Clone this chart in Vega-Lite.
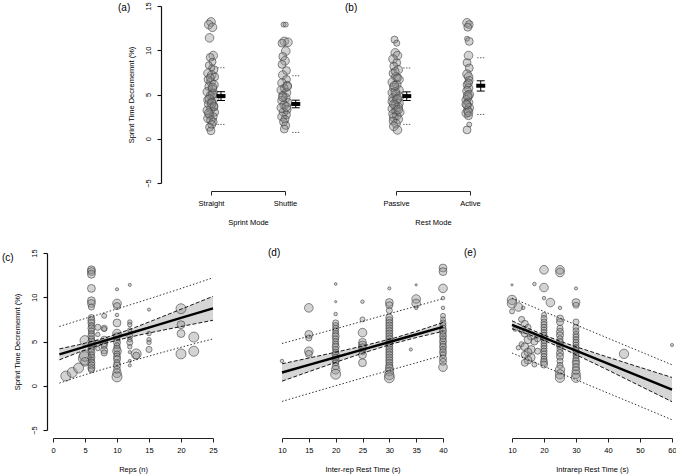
{
  "$schema": "https://vega.github.io/schema/vega-lite/v6.json",
  "description": "Sprint time decrement by sprint mode, rest mode, reps, inter-rep and intrarep rest time.",
  "padding": {"left": 2, "top": 1, "right": 2, "bottom": 2},
  "config": {
    "font": "Liberation Sans",
    "view": {"stroke": null},
    "axis": {
      "grid": false, "labelFlush": false, "labelOverlap": false, "domain": true, "ticks": true,
      "tickSize": 4, "tickWidth": 1, "domainWidth": 1,
      "domainColor": "#222", "tickColor": "#222",
      "labelFont": "Liberation Sans", "labelFontSize": 7.5, "labelColor": "#000", "labelPadding": 4,
      "titleFont": "Liberation Sans", "titleFontSize": 7.5, "titleFontWeight": "normal", "titleColor": "#000", "titlePadding": 12
    },
    "title": {"anchor": "start", "frame": "group", "offset": 0, "fontSize": 10, "fontWeight": "normal", "font": "Liberation Sans", "color": "#000"}
  },
  "datasets": {
    "a": [
      {"x":1.0,"y":13.2,"w":3},{"x":0.97,"y":12.9,"w":3},{"x":1.02,"y":12.6,"w":3},{"x":0.98,"y":11.4,"w":3},
      {"x":1.03,"y":9.4,"w":3},{"x":0.99,"y":9.2,"w":2.5},{"x":1.02,"y":8.7,"w":2},{"x":0.97,"y":8.3,"w":2},{"x":1.04,"y":7.8,"w":2.5},{"x":0.96,"y":7.4,"w":3},{"x":1.01,"y":7.2,"w":3},{"x":1.05,"y":7.0,"w":2.5},{"x":0.96,"y":6.7,"w":2.5},{"x":1.0,"y":6.4,"w":3},{"x":1.04,"y":6.1,"w":3},{"x":0.97,"y":5.9,"w":2.5},{"x":1.02,"y":5.6,"w":3},{"x":0.95,"y":5.3,"w":3},{"x":1.03,"y":5.1,"w":3},{"x":0.99,"y":4.9,"w":2.5},{"x":1.05,"y":4.6,"w":3},{"x":0.96,"y":4.4,"w":3},{"x":1.01,"y":4.2,"w":2.5},{"x":0.97,"y":3.9,"w":3},{"x":1.04,"y":3.7,"w":2.5},{"x":1.0,"y":3.4,"w":3},{"x":0.95,"y":3.2,"w":3},{"x":1.05,"y":3.0,"w":2.5},{"x":0.98,"y":2.7,"w":3},{"x":1.03,"y":2.5,"w":2.5},{"x":0.96,"y":2.3,"w":3},{"x":1.0,"y":2.1,"w":3},{"x":1.03,"y":1.9,"w":2.5},{"x":1.01,"y":1.6,"w":2.5},{"x":0.98,"y":1.3,"w":2.5},{"x":1.0,"y":0.9,"w":2.5},{"x":1.02,"y":5.0,"w":3},{"x":0.98,"y":4.5,"w":3},{"x":1.04,"y":3.6,"w":2.5},{"x":0.99,"y":6.9,"w":2.5},{"x":1.02,"y":5.8,"w":3},{"x":0.97,"y":2.9,"w":3},{"x":1.01,"y":4.0,"w":3},{"x":1.01,"y":8.0,"w":1.5},
      {"x":1.98,"y":12.9,"w":1},{"x":2.01,"y":12.9,"w":1},{"x":1.99,"y":11.0,"w":3},{"x":2.04,"y":10.9,"w":3},{"x":1.96,"y":10.8,"w":2.5},{"x":2.01,"y":9.9,"w":3},{"x":1.97,"y":9.3,"w":2.5},{"x":2.0,"y":8.8,"w":3},{"x":1.96,"y":8.4,"w":2.5},{"x":2.02,"y":7.7,"w":2.5},{"x":1.97,"y":7.2,"w":3},{"x":2.02,"y":6.7,"w":2.5},{"x":1.96,"y":6.3,"w":3},{"x":2.03,"y":6.0,"w":3},{"x":1.99,"y":5.7,"w":2.5},{"x":1.95,"y":5.5,"w":3},{"x":2.02,"y":5.2,"w":3},{"x":1.97,"y":4.9,"w":2.5},{"x":2.01,"y":4.6,"w":3},{"x":1.96,"y":4.3,"w":3},{"x":2.04,"y":4.1,"w":2.5},{"x":1.99,"y":3.8,"w":3},{"x":1.95,"y":3.5,"w":3},{"x":2.03,"y":3.3,"w":2.5},{"x":1.98,"y":3.0,"w":3},{"x":2.02,"y":2.7,"w":2.5},{"x":1.96,"y":2.5,"w":3},{"x":2.0,"y":2.2,"w":2.5},{"x":1.98,"y":1.9,"w":2.5},{"x":2.01,"y":1.5,"w":2.5},{"x":1.99,"y":1.1,"w":2.5},{"x":2.03,"y":5.9,"w":3},{"x":1.97,"y":4.7,"w":3},{"x":2.02,"y":3.6,"w":3}
    ],
    "am": [
      {"x":1.135,"m":4.82,"lo":4.32,"hi":5.32,"pu":8.02,"pl":1.62},
      {"x":2.145,"m":3.93,"lo":3.5,"hi":4.36,"pu":7.12,"pl":0.71}
    ],
    "b": [
      {"x":0.98,"y":11.2,"w":2},{"x":1.01,"y":10.8,"w":1.5},{"x":0.99,"y":9.7,"w":3},{"x":1.02,"y":9.4,"w":3},{"x":0.96,"y":9.0,"w":3},{"x":1.01,"y":8.6,"w":2.5},{"x":0.97,"y":8.2,"w":2.5},{"x":1.03,"y":7.8,"w":3},{"x":0.96,"y":7.4,"w":2.5},{"x":1.0,"y":7.0,"w":3},{"x":1.04,"y":6.7,"w":3},{"x":0.95,"y":6.4,"w":3},{"x":1.01,"y":6.1,"w":3},{"x":0.97,"y":5.8,"w":3},{"x":1.04,"y":5.5,"w":3},{"x":0.95,"y":5.2,"w":3},{"x":1.0,"y":5.0,"w":3},{"x":1.05,"y":4.8,"w":3},{"x":0.96,"y":4.6,"w":3},{"x":1.01,"y":4.4,"w":3},{"x":0.95,"y":4.2,"w":3},{"x":1.04,"y":4.0,"w":3},{"x":0.99,"y":3.8,"w":3},{"x":1.03,"y":3.6,"w":3},{"x":0.95,"y":3.4,"w":3},{"x":1.0,"y":3.2,"w":3},{"x":1.05,"y":3.0,"w":3},{"x":0.96,"y":2.8,"w":3},{"x":1.01,"y":2.6,"w":3},{"x":0.97,"y":2.4,"w":3},{"x":1.03,"y":2.2,"w":3},{"x":0.96,"y":2.0,"w":2.5},{"x":1.0,"y":1.7,"w":3},{"x":0.97,"y":1.4,"w":3},{"x":1.02,"y":1.0,"w":3},{"x":0.99,"y":5.3,"w":3},{"x":1.02,"y":4.5,"w":3},{"x":0.97,"y":3.9,"w":3},{"x":1.03,"y":3.3,"w":3},{"x":0.98,"y":6.0,"w":3},{"x":1.02,"y":6.9,"w":2.5},{"x":0.99,"y":7.6,"w":2.5},
      {"x":1.96,"y":13.1,"w":3},{"x":1.99,"y":12.9,"w":2.5},{"x":1.97,"y":12.6,"w":2.5},{"x":1.96,"y":11.3,"w":1},{"x":1.99,"y":11.0,"w":2.5},{"x":1.98,"y":9.4,"w":3},{"x":1.96,"y":8.6,"w":2.5},{"x":1.99,"y":8.0,"w":2.5},{"x":1.96,"y":7.3,"w":3},{"x":1.98,"y":7.0,"w":3},{"x":1.99,"y":6.6,"w":2.5},{"x":1.96,"y":6.1,"w":2.5},{"x":1.98,"y":5.7,"w":3},{"x":1.96,"y":5.4,"w":3},{"x":1.99,"y":5.0,"w":3},{"x":1.97,"y":4.7,"w":3},{"x":1.95,"y":4.4,"w":3},{"x":1.98,"y":4.1,"w":3},{"x":1.96,"y":3.8,"w":3},{"x":1.99,"y":3.5,"w":3},{"x":1.97,"y":3.2,"w":3},{"x":1.95,"y":2.9,"w":3},{"x":1.98,"y":2.6,"w":2.5},{"x":1.99,"y":1.6,"w":1},{"x":1.96,"y":1.0,"w":2.5},{"x":1.98,"y":6.3,"w":2.5},{"x":1.97,"y":4.9,"w":3},{"x":1.95,"y":3.9,"w":3},{"x":1.98,"y":3.0,"w":3}
    ],
    "bm": [
      {"x":1.145,"m":4.82,"lo":4.32,"hi":5.3,"pu":8.0,"pl":1.62},
      {"x":2.145,"m":5.99,"lo":5.39,"hi":6.55,"pu":9.15,"pl":2.75}
    ],
    "c": [
      {"x":2,"y":1.1,"w":4},{"x":3,"y":1.5,"w":4},{"x":4,"y":2.0,"w":4},{"x":5,"y":3.1,"w":7},{"x":5,"y":3.4,"w":5},{"x":5,"y":5.1,"w":4},{"x":5,"y":2.7,"w":3},
      {"x":6,"y":13.1,"w":2.5},{"x":6,"y":12.9,"w":2.5},{"x":6,"y":12.6,"w":2.5},{"x":6,"y":11.0,"w":2.5},{"x":6,"y":9.6,"w":2.5},{"x":6,"y":9.3,"w":2.5},{"x":6,"y":8.9,"w":1.5},{"x":6,"y":7.7,"w":1.5},{"x":6,"y":7.4,"w":2},{"x":6,"y":7.1,"w":2},{"x":6,"y":6.8,"w":1.5},{"x":6,"y":6.5,"w":2},{"x":6,"y":6.2,"w":1.5},{"x":6,"y":5.9,"w":1.5},{"x":6,"y":5.6,"w":2},{"x":6,"y":5.3,"w":1.5},{"x":6,"y":5.0,"w":2},{"x":6,"y":4.7,"w":1.5},{"x":6,"y":4.4,"w":2},{"x":6,"y":4.1,"w":1.5},{"x":6,"y":3.8,"w":2},{"x":6,"y":3.5,"w":1.5},{"x":6,"y":3.2,"w":2},{"x":6,"y":2.9,"w":1.5},{"x":6,"y":2.6,"w":2},{"x":6,"y":2.3,"w":2},{"x":6,"y":2.0,"w":2},{"x":6,"y":1.8,"w":1.5},
      {"x":7,"y":6.6,"w":1.5},{"x":7,"y":5.8,"w":0.8},{"x":7,"y":4.8,"w":1.5},{"x":7,"y":4.2,"w":0.8},
      {"x":8,"y":7.9,"w":1},{"x":8,"y":6.5,"w":1.5},{"x":8,"y":6.4,"w":1},{"x":8,"y":5.2,"w":2},{"x":8,"y":4.8,"w":2},{"x":8,"y":4.5,"w":1.5},{"x":8,"y":4.0,"w":2},{"x":8,"y":3.7,"w":1.5},
      {"x":10,"y":10.9,"w":0.4},{"x":10,"y":9.3,"w":3},{"x":10,"y":9.0,"w":2},{"x":10,"y":8.0,"w":0.5},{"x":10,"y":7.1,"w":2.5},{"x":10,"y":5.9,"w":3},{"x":10,"y":5.6,"w":2},{"x":10,"y":5.2,"w":1.5},{"x":10,"y":4.9,"w":2},{"x":10,"y":4.5,"w":1.5},{"x":10,"y":4.2,"w":2},{"x":10,"y":3.9,"w":3},{"x":10,"y":3.6,"w":1.5},{"x":10,"y":3.3,"w":2},{"x":10,"y":3.0,"w":2},{"x":10,"y":2.6,"w":1.5},{"x":10,"y":2.3,"w":2},{"x":10,"y":1.8,"w":2},{"x":10,"y":1.4,"w":3},{"x":10,"y":1.0,"w":4},
      {"x":12,"y":11.4,"w":0.4},{"x":12,"y":7.2,"w":0.8},{"x":12,"y":6.9,"w":0.8},{"x":12,"y":6.3,"w":0.8},{"x":12,"y":5.6,"w":1.5},{"x":12,"y":5.2,"w":0.8},{"x":12,"y":4.9,"w":1.5},{"x":12,"y":4.4,"w":0.8},{"x":12,"y":3.8,"w":0.4},{"x":12,"y":2.8,"w":0.4},{"x":12,"y":2.3,"w":0.4},
      {"x":13,"y":3.6,"w":4},{"x":13,"y":3.4,"w":2},
      {"x":15,"y":8.6,"w":0.4},{"x":15,"y":5.9,"w":0.8},{"x":15,"y":5.2,"w":0.8},{"x":15,"y":4.9,"w":0.8},{"x":15,"y":4.1,"w":1.5},
      {"x":20,"y":8.7,"w":4},{"x":20,"y":6.9,"w":2.5},{"x":20,"y":5.9,"w":2.5},{"x":20,"y":3.6,"w":4},
      {"x":22,"y":5.5,"w":4},{"x":22,"y":3.9,"w":4}
    ],
    "cl": [
      {"x":1,"fit":3.55,"lo":2.93,"hi":4.17,"plo":0.3,"phi":6.7},
      {"x":4,"fit":4.2,"lo":3.77,"hi":4.63,"plo":1.02,"phi":7.38},
      {"x":8,"fit":5.07,"lo":4.77,"hi":5.37,"plo":1.9,"phi":8.24},
      {"x":12,"fit":5.93,"lo":5.5,"hi":6.36,"plo":2.73,"phi":9.13},
      {"x":16,"fit":6.8,"lo":6.11,"hi":7.49,"plo":3.55,"phi":10.05},
      {"x":20,"fit":7.67,"lo":6.69,"hi":8.65,"plo":4.35,"phi":10.99},
      {"x":25,"fit":8.75,"lo":7.4,"hi":10.1,"plo":5.3,"phi":12.2}
    ],
    "d": [
      {"x":10,"y":2.8,"w":0.5},
      {"x":15,"y":8.8,"w":3},{"x":15,"y":5.8,"w":2.5},{"x":15,"y":5.4,"w":1.5},{"x":15,"y":3.9,"w":3},{"x":15,"y":3.6,"w":2},
      {"x":20,"y":11.5,"w":0.3},{"x":20,"y":9.5,"w":0.2},{"x":20,"y":8.1,"w":0.5},{"x":20,"y":7.1,"w":1.5},{"x":20,"y":6.8,"w":1.5},{"x":20,"y":6.5,"w":1.5},{"x":20,"y":6.2,"w":1.5},{"x":20,"y":5.9,"w":1.5},{"x":20,"y":5.6,"w":2},{"x":20,"y":5.3,"w":1.5},{"x":20,"y":5.0,"w":1.5},{"x":20,"y":4.7,"w":1.5},{"x":20,"y":4.4,"w":2},{"x":20,"y":4.1,"w":1.5},{"x":20,"y":3.8,"w":1.5},{"x":20,"y":3.5,"w":2},{"x":20,"y":3.2,"w":1.5},{"x":20,"y":2.9,"w":2},{"x":20,"y":2.6,"w":1.5},{"x":20,"y":2.2,"w":2},{"x":20,"y":1.8,"w":3},{"x":20,"y":1.3,"w":4},
      {"x":25,"y":9.5,"w":0.5},{"x":25,"y":7.5,"w":1},{"x":25,"y":6.0,"w":3},{"x":25,"y":4.9,"w":2.5},{"x":25,"y":4.6,"w":2.5},{"x":25,"y":4.3,"w":2.5},{"x":25,"y":3.9,"w":2},{"x":25,"y":3.5,"w":2.5},{"x":25,"y":2.6,"w":2.5},
      {"x":30,"y":11.0,"w":0.4},{"x":30,"y":9.4,"w":2.5},{"x":30,"y":9.1,"w":2},{"x":30,"y":8.5,"w":1.5},{"x":30,"y":7.7,"w":2},{"x":30,"y":7.4,"w":2},{"x":30,"y":7.1,"w":2},{"x":30,"y":6.8,"w":2},{"x":30,"y":6.5,"w":2},{"x":30,"y":6.2,"w":2},{"x":30,"y":5.9,"w":2},{"x":30,"y":5.6,"w":2},{"x":30,"y":5.3,"w":2},{"x":30,"y":5.0,"w":2},{"x":30,"y":4.7,"w":2},{"x":30,"y":4.4,"w":2},{"x":30,"y":4.1,"w":2},{"x":30,"y":3.8,"w":2},{"x":30,"y":3.5,"w":2},{"x":30,"y":3.2,"w":2},{"x":30,"y":2.9,"w":2},{"x":30,"y":2.6,"w":2},{"x":30,"y":2.3,"w":2},{"x":30,"y":2.0,"w":2.5},{"x":30,"y":1.6,"w":3},{"x":30,"y":1.2,"w":3.5},{"x":30,"y":0.9,"w":4},
      {"x":34,"y":4.1,"w":0.4},
      {"x":35,"y":11.4,"w":0.2},{"x":35,"y":9.8,"w":3},{"x":35,"y":9.3,"w":3},{"x":35,"y":8.8,"w":0.5},
      {"x":40,"y":13.3,"w":2.5},{"x":40,"y":12.9,"w":2.5},{"x":40,"y":11.0,"w":3},{"x":40,"y":9.9,"w":0.5},{"x":40,"y":8.8,"w":0.5},{"x":40,"y":7.9,"w":1},{"x":40,"y":7.5,"w":1},{"x":40,"y":7.1,"w":1.5},{"x":40,"y":6.8,"w":1.5},{"x":40,"y":6.5,"w":1.5},{"x":40,"y":6.2,"w":2},{"x":40,"y":5.9,"w":1.5},{"x":40,"y":5.6,"w":2},{"x":40,"y":5.3,"w":1.5},{"x":40,"y":5.0,"w":2},{"x":40,"y":4.7,"w":1.5},{"x":40,"y":4.4,"w":2},{"x":40,"y":4.1,"w":1.5},{"x":40,"y":3.8,"w":2},{"x":40,"y":3.5,"w":1.5},{"x":40,"y":3.1,"w":2},{"x":40,"y":2.7,"w":2},{"x":40,"y":2.1,"w":3}
    ],
    "dl": [
      {"x":10,"fit":1.5,"lo":0.52,"hi":2.48,"plo":-1.77,"phi":4.77},
      {"x":15,"fit":2.36,"lo":1.59,"hi":3.13,"plo":-0.88,"phi":5.6},
      {"x":20,"fit":3.22,"lo":2.65,"hi":3.79,"plo":0.0,"phi":6.44},
      {"x":25,"fit":4.08,"lo":3.68,"hi":4.48,"plo":0.88,"phi":7.28},
      {"x":31,"fit":5.11,"lo":4.81,"hi":5.41,"plo":1.91,"phi":8.31},
      {"x":35,"fit":5.79,"lo":5.44,"hi":6.14,"plo":2.59,"phi":8.99},
      {"x":40,"fit":6.65,"lo":6.15,"hi":7.15,"plo":3.45,"phi":9.85}
    ],
    "e": [
      {"x":10,"y":11.4,"w":0.2},{"x":10,"y":9.7,"w":3.5},{"x":10,"y":9.3,"w":3.5},{"x":10,"y":8.4,"w":1},{"x":12,"y":8.9,"w":3},{"x":13.5,"y":8.8,"w":0.5},
      {"x":13,"y":7.5,"w":1.5},{"x":14,"y":7.0,"w":2},{"x":15,"y":6.6,"w":1.5},{"x":13,"y":6.2,"w":1},{"x":14,"y":5.9,"w":2},{"x":16,"y":5.6,"w":2.5},{"x":15,"y":5.2,"w":2.5},{"x":17,"y":5.0,"w":2},{"x":13,"y":4.7,"w":1},{"x":14,"y":4.4,"w":2.5},{"x":16,"y":4.1,"w":2.5},{"x":15,"y":3.8,"w":2.5},{"x":14,"y":3.5,"w":2},{"x":16,"y":3.2,"w":2.5},{"x":15,"y":2.9,"w":2.5},{"x":14,"y":2.6,"w":2},{"x":17,"y":2.4,"w":1},{"x":18,"y":3.9,"w":1.5},{"x":18,"y":5.3,"w":1.5},{"x":12,"y":4.3,"w":0.8},{"x":11,"y":6.4,"w":0.8},
      {"x":17,"y":11.5,"w":0.5},
      {"x":20,"y":13.1,"w":3},{"x":20,"y":11.1,"w":3},{"x":20,"y":9.9,"w":0.5},{"x":22,"y":9.4,"w":3},{"x":20,"y":8.0,"w":1},{"x":20,"y":7.6,"w":1.5},{"x":20,"y":7.2,"w":1.5},{"x":20,"y":6.9,"w":1.5},{"x":20,"y":6.6,"w":1.5},{"x":20,"y":6.3,"w":1.5},{"x":20,"y":6.0,"w":1.5},{"x":20,"y":5.7,"w":1.5},{"x":20,"y":5.4,"w":1.5},{"x":20,"y":5.1,"w":1.5},{"x":20,"y":4.8,"w":1.5},{"x":20,"y":4.5,"w":1.5},{"x":20,"y":4.2,"w":1.5},{"x":20,"y":3.9,"w":1.5},{"x":20,"y":3.6,"w":1.5},{"x":20,"y":3.3,"w":1.5},{"x":20,"y":3.0,"w":1.5},{"x":20,"y":2.7,"w":2},{"x":20,"y":2.4,"w":2},
      {"x":25,"y":13.1,"w":3},{"x":25,"y":12.8,"w":3},{"x":25,"y":8.8,"w":0.5},{"x":25,"y":7.6,"w":2},{"x":25,"y":7.2,"w":2},{"x":25,"y":6.5,"w":1.5},{"x":25,"y":6.1,"w":2},{"x":25,"y":5.7,"w":2},{"x":25,"y":5.3,"w":1.5},{"x":25,"y":4.9,"w":2},{"x":25,"y":4.5,"w":2},{"x":25,"y":4.1,"w":1.5},{"x":25,"y":3.7,"w":2},{"x":25,"y":3.3,"w":2},{"x":25,"y":2.8,"w":1.5},{"x":25,"y":2.3,"w":1.5},{"x":25,"y":1.8,"w":3.5},{"x":25,"y":1.3,"w":3.5},{"x":25,"y":0.9,"w":3.5},
      {"x":30,"y":11.0,"w":0.4},{"x":30,"y":9.4,"w":2.5},{"x":30,"y":9.1,"w":1.5},{"x":30,"y":7.2,"w":1.5},{"x":30,"y":6.6,"w":1.5},{"x":30,"y":6.2,"w":1.5},{"x":30,"y":5.8,"w":1.5},{"x":30,"y":5.5,"w":1.5},{"x":30,"y":5.2,"w":1.5},{"x":30,"y":4.9,"w":1.5},{"x":30,"y":4.6,"w":1.5},{"x":30,"y":4.3,"w":1.5},{"x":30,"y":4.0,"w":1.5},{"x":30,"y":3.7,"w":1.5},{"x":30,"y":3.4,"w":1.5},{"x":30,"y":3.1,"w":1.5},{"x":30,"y":2.8,"w":2},{"x":30,"y":2.5,"w":2},{"x":30,"y":2.1,"w":2},{"x":30,"y":1.7,"w":2.5},{"x":30,"y":1.3,"w":3},{"x":30,"y":0.9,"w":3.5},
      {"x":45,"y":3.6,"w":3.5},{"x":60,"y":4.6,"w":0.4}
    ],
    "el": [
      {"x":10,"fit":6.89,"lo":6.44,"hi":7.34,"plo":3.7,"phi":9.9},
      {"x":15,"fit":6.16,"lo":5.82,"hi":6.5,"plo":2.95,"phi":9.15},
      {"x":20,"fit":5.43,"lo":5.13,"hi":5.73,"plo":2.19,"phi":8.39},
      {"x":25,"fit":4.69,"lo":4.35,"hi":5.03,"plo":1.44,"phi":7.64},
      {"x":30,"fit":3.96,"lo":3.51,"hi":4.41,"plo":0.68,"phi":6.88},
      {"x":40,"fit":2.5,"lo":1.77,"hi":3.23,"plo":-0.83,"phi":5.37},
      {"x":50,"fit":1.03,"lo":-0.02,"hi":2.08,"plo":-2.33,"phi":3.87},
      {"x":60,"fit":-0.43,"lo":-1.8,"hi":0.94,"plo":-3.84,"phi":2.37}
    ]
  },
  "spacing": 22,
  "vconcat": [
    {
      "hconcat": [
        {
          "width": 47, "height": 177,
          "data": {"values": [{}]},
          "mark": {"type": "point", "opacity": 0},
          "encoding": {}
        },
        {
          "width": 74, "height": 177,
          "title": {"text": "(a)", "dx": -93, "dy": 20.5, "baseline": "middle"},
          "encoding": {
            "x": {"field": "x", "type": "quantitative", "scale": {"domain": [1, 2], "nice": false, "zero": false},
                  "axis": {"values": [1, 2], "labelExpr": "datum.value == 1 ? 'Straight' : 'Shuttle'", "title": "Sprint Mode", "offset": 8}},
            "y": {"type": "quantitative", "scale": {"domain": [-5, 15], "nice": false, "zero": false},
                  "axis": {"values": [-5, 0, 5, 10, 15], "offset": 50, "domain": true, "ticks": true, "domainColor": "#111", "tickColor": "#111", "domainWidth": 1.2, "tickWidth": 1.1, "labelAngle": -90, "labelAlign": "center", "labelBaseline": "bottom", "labelPadding": 5, "title": "Sprint Time Decrememnt (%)", "titlePadding": 9}}
          },
          "layer": [
            {
              "data": {"name": "a"},
              "mark": {"type": "circle", "opacity": 1, "fill": "#8c8c8c", "fillOpacity": 0.38, "stroke": "#3c3c3c", "strokeOpacity": 0.85, "strokeWidth": 0.7},
              "encoding": {
                "y": {"field": "y"},
                "size": {"field": "w", "type": "quantitative", "scale": {"domain": [0, 8], "range": [0, 200]}, "legend": null}
              }
            },
            {
              "data": {"name": "am"},
              "mark": {"type": "rule", "color": "#000", "strokeWidth": 1},
              "encoding": {"y": {"field": "lo"}, "y2": {"field": "hi"}}
            },
            {
              "data": {"name": "am"},
              "mark": {"type": "tick", "orient": "horizontal", "size": 8, "thickness": 1, "color": "#000", "opacity": 1},
              "encoding": {"y": {"field": "lo"}}
            },
            {
              "data": {"name": "am"},
              "mark": {"type": "tick", "orient": "horizontal", "size": 8, "thickness": 1, "color": "#000", "opacity": 1},
              "encoding": {"y": {"field": "hi"}}
            },
            {
              "data": {"name": "am"},
              "mark": {"type": "tick", "orient": "horizontal", "size": 9, "thickness": 4, "color": "#000", "opacity": 1},
              "encoding": {"y": {"field": "m"}}
            },
            {
              "data": {"name": "am"},
              "mark": {"type": "point", "shape": "M-1,0H-0.6M-0.2,0H0.2M0.6,0H1", "size": 49, "filled": false, "stroke": "#333", "strokeWidth": 0.8, "opacity": 1},
              "encoding": {"y": {"field": "pu"}}
            },
            {
              "data": {"name": "am"},
              "mark": {"type": "point", "shape": "M-1,0H-0.6M-0.2,0H0.2M0.6,0H1", "size": 49, "filled": false, "stroke": "#333", "strokeWidth": 0.8, "opacity": 1},
              "encoding": {"y": {"field": "pl"}}
            }
          ]
        },
        {
          "width": 74, "height": 177,
          "title": {"text": "(b)", "dx": -51, "dy": 15.5, "baseline": "middle"},
          "encoding": {
            "x": {"field": "x", "type": "quantitative", "scale": {"domain": [1, 2], "nice": false, "zero": false},
                  "axis": {"values": [1, 2], "labelExpr": "datum.value == 1 ? 'Passive' : 'Active'", "title": "Rest Mode", "offset": 8}},
            "y": {"type": "quantitative", "scale": {"domain": [-5, 15], "nice": false, "zero": false}, "axis": null}
          },
          "layer": [
            {
              "data": {"name": "b"},
              "mark": {"type": "circle", "opacity": 1, "fill": "#8c8c8c", "fillOpacity": 0.38, "stroke": "#3c3c3c", "strokeOpacity": 0.85, "strokeWidth": 0.7},
              "encoding": {
                "y": {"field": "y"},
                "size": {"field": "w", "type": "quantitative", "scale": {"domain": [0, 8], "range": [0, 200]}, "legend": null}
              }
            },
            {
              "data": {"name": "bm"},
              "mark": {"type": "rule", "color": "#000", "strokeWidth": 1},
              "encoding": {"y": {"field": "lo"}, "y2": {"field": "hi"}}
            },
            {
              "data": {"name": "bm"},
              "mark": {"type": "tick", "orient": "horizontal", "size": 8, "thickness": 1, "color": "#000", "opacity": 1},
              "encoding": {"y": {"field": "lo"}}
            },
            {
              "data": {"name": "bm"},
              "mark": {"type": "tick", "orient": "horizontal", "size": 8, "thickness": 1, "color": "#000", "opacity": 1},
              "encoding": {"y": {"field": "hi"}}
            },
            {
              "data": {"name": "bm"},
              "mark": {"type": "tick", "orient": "horizontal", "size": 9, "thickness": 4, "color": "#000", "opacity": 1},
              "encoding": {"y": {"field": "m"}}
            },
            {
              "data": {"name": "bm"},
              "mark": {"type": "point", "shape": "M-1,0H-0.6M-0.2,0H0.2M0.6,0H1", "size": 49, "filled": false, "stroke": "#333", "strokeWidth": 0.8, "opacity": 1},
              "encoding": {"y": {"field": "pu"}}
            },
            {
              "data": {"name": "bm"},
              "mark": {"type": "point", "shape": "M-1,0H-0.6M-0.2,0H0.2M0.6,0H1", "size": 49, "filled": false, "stroke": "#333", "strokeWidth": 0.8, "opacity": 1},
              "encoding": {"y": {"field": "pl"}}
            }
          ]
        }
      ],
      "spacing": 111,
      "bounds": "flush"
    },
    {
      "hconcat": [
        {
          "width": 160, "height": 177,
          "title": {"text": "(c)", "dx": -51, "dy": 23, "baseline": "middle"},
          "encoding": {
            "x": {"field": "x", "type": "quantitative", "scale": {"domain": [0, 25], "nice": false, "zero": false},
                  "axis": {"values": [0, 5, 10, 15, 20, 25], "title": "Reps (n)", "offset": 8}},
            "y": {"type": "quantitative", "scale": {"domain": [-5, 15], "nice": false, "zero": false},
                  "axis": {"values": [-5, 0, 5, 10, 15], "offset": 6, "domain": true, "ticks": true, "domainColor": "#111", "tickColor": "#111", "domainWidth": 1.2, "tickWidth": 1.1, "labelAngle": -90, "labelAlign": "center", "labelBaseline": "bottom", "labelPadding": 5, "title": "Sprint Time Decrememnt (%)", "titlePadding": 9}}
          },
          "layer": [
            {
              "data": {"name": "cl"},
              "mark": {"type": "area", "color": "#d6d6d6", "opacity": 1},
              "encoding": {"y": {"field": "lo"}, "y2": {"field": "hi"}}
            },
            {
              "data": {"name": "c"},
              "mark": {"type": "circle", "opacity": 1, "fill": "#8c8c8c", "fillOpacity": 0.38, "stroke": "#3c3c3c", "strokeOpacity": 0.85, "strokeWidth": 0.7},
              "encoding": {
                "y": {"field": "y"},
                "size": {"field": "w", "type": "quantitative", "scale": {"domain": [0, 8], "range": [0, 200]}, "legend": null}
              }
            },
            {
              "data": {"name": "cl"},
              "mark": {"type": "line", "color": "#000", "strokeWidth": 0.9, "strokeDash": [4, 2]},
              "encoding": {"y": {"field": "lo"}}
            },
            {
              "data": {"name": "cl"},
              "mark": {"type": "line", "color": "#000", "strokeWidth": 0.9, "strokeDash": [4, 2]},
              "encoding": {"y": {"field": "hi"}}
            },
            {
              "data": {"name": "cl"},
              "mark": {"type": "line", "color": "#000", "strokeWidth": 2.4},
              "encoding": {"y": {"field": "fit"}}
            },
            {
              "data": {"name": "cl"},
              "mark": {"type": "line", "color": "#000", "strokeWidth": 0.8, "strokeDash": [1.5, 2]},
              "encoding": {"y": {"field": "plo"}}
            },
            {
              "data": {"name": "cl"},
              "mark": {"type": "line", "color": "#000", "strokeWidth": 0.8, "strokeDash": [1.5, 2]},
              "encoding": {"y": {"field": "phi"}}
            }
          ]
        },
        {
          "width": 161, "height": 177,
          "title": {"text": "(d)", "dx": -14, "dy": 14, "baseline": "middle"},
          "encoding": {
            "x": {"field": "x", "type": "quantitative", "scale": {"domain": [10, 40], "nice": false, "zero": false},
                  "axis": {"values": [10, 15, 20, 25, 30, 35, 40], "title": "Inter-rep Rest Time (s)", "offset": 8}},
            "y": {"type": "quantitative", "scale": {"domain": [-5, 15], "nice": false, "zero": false}, "axis": null}
          },
          "layer": [
            {
              "data": {"name": "dl"},
              "mark": {"type": "area", "color": "#d6d6d6", "opacity": 1},
              "encoding": {"y": {"field": "lo"}, "y2": {"field": "hi"}}
            },
            {
              "data": {"name": "d"},
              "mark": {"type": "circle", "opacity": 1, "fill": "#8c8c8c", "fillOpacity": 0.38, "stroke": "#3c3c3c", "strokeOpacity": 0.85, "strokeWidth": 0.7},
              "encoding": {
                "y": {"field": "y"},
                "size": {"field": "w", "type": "quantitative", "scale": {"domain": [0, 8], "range": [0, 200]}, "legend": null}
              }
            },
            {
              "data": {"name": "dl"},
              "mark": {"type": "line", "color": "#000", "strokeWidth": 0.9, "strokeDash": [4, 2]},
              "encoding": {"y": {"field": "lo"}}
            },
            {
              "data": {"name": "dl"},
              "mark": {"type": "line", "color": "#000", "strokeWidth": 0.9, "strokeDash": [4, 2]},
              "encoding": {"y": {"field": "hi"}}
            },
            {
              "data": {"name": "dl"},
              "mark": {"type": "line", "color": "#000", "strokeWidth": 2.4},
              "encoding": {"y": {"field": "fit"}}
            },
            {
              "data": {"name": "dl"},
              "mark": {"type": "line", "color": "#000", "strokeWidth": 0.8, "strokeDash": [1.5, 2]},
              "encoding": {"y": {"field": "plo"}}
            },
            {
              "data": {"name": "dl"},
              "mark": {"type": "line", "color": "#000", "strokeWidth": 0.8, "strokeDash": [1.5, 2]},
              "encoding": {"y": {"field": "phi"}}
            }
          ]
        },
        {
          "width": 160, "height": 177,
          "title": {"text": "(e)", "dx": -48, "dy": 14, "baseline": "middle"},
          "encoding": {
            "x": {"field": "x", "type": "quantitative", "scale": {"domain": [10, 60], "nice": false, "zero": false},
                  "axis": {"values": [10, 20, 30, 40, 50, 60], "title": "Intrarep Rest Time (s)", "offset": 8}},
            "y": {"type": "quantitative", "scale": {"domain": [-5, 15], "nice": false, "zero": false}, "axis": null}
          },
          "layer": [
            {
              "data": {"name": "el"},
              "mark": {"type": "area", "color": "#d6d6d6", "opacity": 1},
              "encoding": {"y": {"field": "lo"}, "y2": {"field": "hi"}}
            },
            {
              "data": {"name": "e"},
              "mark": {"type": "circle", "opacity": 1, "fill": "#8c8c8c", "fillOpacity": 0.38, "stroke": "#3c3c3c", "strokeOpacity": 0.85, "strokeWidth": 0.7},
              "encoding": {
                "y": {"field": "y"},
                "size": {"field": "w", "type": "quantitative", "scale": {"domain": [0, 8], "range": [0, 200]}, "legend": null}
              }
            },
            {
              "data": {"name": "el"},
              "mark": {"type": "line", "color": "#000", "strokeWidth": 0.9, "strokeDash": [4, 2]},
              "encoding": {"y": {"field": "lo"}}
            },
            {
              "data": {"name": "el"},
              "mark": {"type": "line", "color": "#000", "strokeWidth": 0.9, "strokeDash": [4, 2]},
              "encoding": {"y": {"field": "hi"}}
            },
            {
              "data": {"name": "el"},
              "mark": {"type": "line", "color": "#000", "strokeWidth": 2.4},
              "encoding": {"y": {"field": "fit"}}
            },
            {
              "data": {"name": "el"},
              "mark": {"type": "line", "color": "#000", "strokeWidth": 0.8, "strokeDash": [1.5, 2]},
              "encoding": {"y": {"field": "plo"}}
            },
            {
              "data": {"name": "el"},
              "mark": {"type": "line", "color": "#000", "strokeWidth": 0.8, "strokeDash": [1.5, 2]},
              "encoding": {"y": {"field": "phi"}}
            }
          ]
        }
      ],
      "spacing": 69,
      "bounds": "flush"
    }
  ]
}
